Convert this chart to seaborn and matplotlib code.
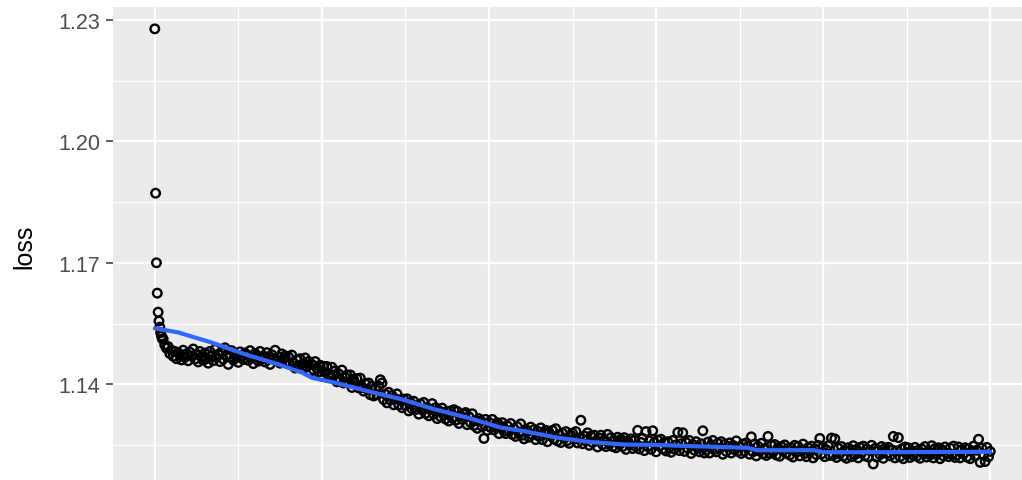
import matplotlib
matplotlib.use("Agg")
import matplotlib.pyplot as plt
import seaborn as sns
import pandas as pd

# epochs: first ten one by one, then every second epoch
epochs = list(range(10)) + list(range(10, 1001, 2))

loss_start = [1.2278, 1.1872, 1.1700, 1.1625, 1.1578, 1.1556, 1.1541, 1.1527, 1.1519, 1.1512]

loss_rest = [
    # 10 - 58
    1.1512, 1.1497, 1.1489, 1.1493, 1.1476, 1.1484, 1.1469, 1.1481, 1.1463, 1.1478, 1.1472, 1.1460, 1.1484,
    1.1466, 1.1475, 1.1458, 1.1479, 1.1470, 1.1487, 1.1462, 1.1474, 1.1455, 1.1481, 1.1468, 1.1459,
    # 60 - 108
    1.1477, 1.1463, 1.1452, 1.1481, 1.1470, 1.1458, 1.1486, 1.1467, 1.1474, 1.1456, 1.1479, 1.1462, 1.1490,
    1.1471, 1.1449, 1.1468, 1.1483, 1.1460, 1.1475, 1.1466, 1.1454, 1.1480, 1.1469, 1.1461, 1.1477,
    # 110 - 158
    1.1472, 1.1459, 1.1483, 1.1465, 1.1451, 1.1476, 1.1468, 1.1457, 1.1481, 1.1462, 1.1470, 1.1455, 1.1478,
    1.1466, 1.1449, 1.1473, 1.1461, 1.1484, 1.1458, 1.1467, 1.1452, 1.1475, 1.1463, 1.1470, 1.1456,
    # 160 - 208
    1.1468, 1.1450, 1.1472, 1.1453, 1.1440, 1.1460, 1.1446, 1.1463, 1.1439, 1.1452, 1.1465, 1.1443, 1.1456,
    1.1432, 1.1449, 1.1436, 1.1456, 1.1440, 1.1430, 1.1447, 1.1420, 1.1444, 1.1429, 1.1444, 1.1424,
    # 210 - 258
    1.1419, 1.1442, 1.1422, 1.1433, 1.1406, 1.1426, 1.1411, 1.1435, 1.1403, 1.1417, 1.1423, 1.1405, 1.1423,
    1.1392, 1.1412, 1.1402, 1.1414, 1.1391, 1.1415, 1.1392, 1.1383, 1.1401, 1.1388, 1.1403, 1.1374,
    # 260 - 308
    1.1395, 1.1371, 1.1388, 1.1374, 1.1395, 1.1411, 1.1403, 1.1362, 1.1375, 1.1354, 1.1380, 1.1361, 1.1372,
    1.1349, 1.1364, 1.1376, 1.1349, 1.1362, 1.1342, 1.1363, 1.1347, 1.1364, 1.1334, 1.1355, 1.1339,
    # 310 - 358
    1.1358, 1.1337, 1.1347, 1.1326, 1.1351, 1.1337, 1.1355, 1.1328, 1.1343, 1.1322, 1.1337, 1.1352, 1.1326,
    1.1342, 1.1315, 1.1335, 1.1320, 1.1341, 1.1324, 1.1314, 1.1333, 1.1309, 1.1334, 1.1316, 1.1337,
    # 360 - 408
    1.1311, 1.1333, 1.1303, 1.1322, 1.1313, 1.1326, 1.1330, 1.1300, 1.1320, 1.1305, 1.1327, 1.1298, 1.1310,
    1.1291, 1.1315, 1.1309, 1.1295, 1.1266, 1.1313, 1.1286, 1.1306, 1.1293, 1.1313, 1.1287, 1.1299,
    # 410 - 458
    1.1305, 1.1278, 1.1297, 1.1305, 1.1284, 1.1278, 1.1297, 1.1285, 1.1303, 1.1276, 1.1290, 1.1271, 1.1295,
    1.1278, 1.1302, 1.1274, 1.1265, 1.1288, 1.1283, 1.1269, 1.1294, 1.1275, 1.1288, 1.1263, 1.1284,
    # 460 - 508
    1.1271, 1.1292, 1.1263, 1.1279, 1.1286, 1.1258, 1.1281, 1.1272, 1.1286, 1.1264, 1.1290, 1.1260, 1.1276,
    1.1256, 1.1279, 1.1266, 1.1283, 1.1261, 1.1254, 1.1274, 1.1279, 1.1264, 1.1283, 1.1255, 1.1267,
    # 510 - 558
    1.1311, 1.1253, 1.1272, 1.1260, 1.1280, 1.1249, 1.1272, 1.1256, 1.1274, 1.1260, 1.1245, 1.1267, 1.1274,
    1.1251, 1.1262, 1.1246, 1.1276, 1.1252, 1.1268, 1.1246, 1.1261, 1.1243, 1.1269, 1.1251, 1.1264,
    # 560 - 608
    1.1246, 1.1268, 1.1239, 1.1260, 1.1251, 1.1265, 1.1241, 1.1261, 1.1246, 1.1286, 1.1240, 1.1256, 1.1266,
    1.1236, 1.1283, 1.1246, 1.1260, 1.1239, 1.1285, 1.1256, 1.1233, 1.1262, 1.1247, 1.1264, 1.1240,
    # 610 - 658
    1.1256, 1.1235, 1.1258, 1.1243, 1.1232, 1.1261, 1.1240, 1.1250, 1.1281, 1.1236, 1.1253, 1.1280, 1.1234,
    1.1256, 1.1242, 1.1261, 1.1229, 1.1251, 1.1237, 1.1258, 1.1244, 1.1233, 1.1253, 1.1285, 1.1230,
    # 660 - 708
    1.1237, 1.1257, 1.1230, 1.1249, 1.1261, 1.1239, 1.1233, 1.1254, 1.1241, 1.1258, 1.1227, 1.1251, 1.1234,
    1.1246, 1.1255, 1.1230, 1.1249, 1.1238, 1.1260, 1.1234, 1.1246, 1.1229, 1.1252, 1.1235, 1.1255,
    # 710 - 758
    1.1246, 1.1227, 1.1270, 1.1233, 1.1252, 1.1223, 1.1247, 1.1235, 1.1254, 1.1228, 1.1241, 1.1224, 1.1271,
    1.1229, 1.1249, 1.1232, 1.1251, 1.1225, 1.1243, 1.1222, 1.1246, 1.1235, 1.1250, 1.1229, 1.1241,
    # 760 - 808
    1.1225, 1.1243, 1.1220, 1.1249, 1.1232, 1.1246, 1.1223, 1.1238, 1.1252, 1.1229, 1.1221, 1.1243, 1.1233,
    1.1247, 1.1218, 1.1240, 1.1226, 1.1249, 1.1266, 1.1228, 1.1245, 1.1221, 1.1238, 1.1248, 1.1224,
    # 810 - 858
    1.1267, 1.1225, 1.1265, 1.1219, 1.1242, 1.1228, 1.1246, 1.1222, 1.1237, 1.1217, 1.1243, 1.1235, 1.1221,
    1.1248, 1.1226, 1.1239, 1.1218, 1.1244, 1.1230, 1.1247, 1.1223, 1.1240, 1.1220, 1.1236, 1.1249,
    # 860 - 908
    1.1203, 1.1241, 1.1220, 1.1237, 1.1226, 1.1246, 1.1217, 1.1242, 1.1229, 1.1244, 1.1223, 1.1238, 1.1271,
    1.1218, 1.1235, 1.1268, 1.1221, 1.1240, 1.1216, 1.1245, 1.1227, 1.1243, 1.1219, 1.1236, 1.1224,
    # 910 - 958
    1.1244, 1.1222, 1.1237, 1.1217, 1.1240, 1.1229, 1.1246, 1.1220, 1.1234, 1.1225, 1.1248, 1.1218, 1.1241,
    1.1227, 1.1243, 1.1216, 1.1238, 1.1223, 1.1245, 1.1230, 1.1221, 1.1242, 1.1226, 1.1247, 1.1219,
    # 960 - 1000
    1.1225, 1.1245, 1.1218, 1.1238, 1.1228, 1.1243, 1.1220, 1.1240, 1.1216, 1.1235, 1.1247, 1.1223, 1.1237,
    1.1264, 1.1207, 1.1242, 1.1226, 1.1209, 1.1244, 1.1221, 1.1234,
]

# smoothed trend
smooth_epoch = [0, 28, 68, 108, 148, 176, 188, 215, 255, 295, 335, 375, 414, 442, 482, 522, 562,
                602, 642, 709, 721, 789, 800, 869, 1000]
smooth_loss = [1.1538, 1.1528, 1.1503, 1.1474, 1.1449, 1.1429, 1.1416, 1.1404, 1.1383, 1.1363, 1.1338,
               1.1317, 1.1293, 1.1284, 1.1268, 1.1257, 1.1251, 1.1250, 1.1247, 1.1243, 1.1237, 1.1237,
               1.1232, 1.1232, 1.1233]

y_ticks = [1.14, 1.17, 1.20, 1.23]
y_minor = [1.125, 1.155, 1.185, 1.215]
x_ticks = [0, 200, 400, 600, 800, 1000]
x_minor = [100, 300, 500, 700, 900]

df = pd.DataFrame({"epoch": epochs, "loss": loss_start + loss_rest})
trend = pd.DataFrame({"epoch": smooth_epoch, "loss": smooth_loss})

sns.set_theme(style="darkgrid", rc={"axes.facecolor": "#EBEBEB", "grid.color": "white"})
plt.rcParams["font.family"] = ["Liberation Sans", "DejaVu Sans"]

fig = plt.figure(figsize=(10.22, 4.81), dpi=100)
ax = fig.add_axes([113 / 1022, 1 - 486 / 481, 919 / 1022, 478 / 481])

sns.scatterplot(data=df, x="epoch", y="loss", ax=ax, marker="o", s=38,
                facecolor="none", edgecolor="black", linewidth=1.7, zorder=3)
sns.lineplot(data=trend, x="epoch", y="loss", ax=ax, color="#3366FF", linewidth=3.0, zorder=4)

ax.set_xlim(-50, 1050)
ax.set_ylim(1.1151, 1.2332)
ax.set_xticks(x_ticks)
ax.set_xticks(x_minor, minor=True)
ax.set_yticks(y_ticks)
ax.set_yticks(y_minor, minor=True)
ax.set_yticklabels([f"{v:.2f}" for v in y_ticks])
ax.set_xticklabels([])
ax.grid(which="major", color="white", linewidth=1.6)
ax.grid(which="minor", color="white", linewidth=0.8)
ax.tick_params(axis="y", which="major", length=5, width=1.1, color="#333333",
               labelsize=15.5, labelcolor="#4D4D4D", pad=4, left=True)
ax.tick_params(axis="y", which="minor", length=0)
ax.tick_params(axis="x", which="both", length=0)
for side in ax.spines.values():
    side.set_visible(False)
ax.set_xlabel("")
ax.set_ylabel("loss", fontsize=18, color="black", labelpad=16)

fig.savefig("out.png", dpi=100)
